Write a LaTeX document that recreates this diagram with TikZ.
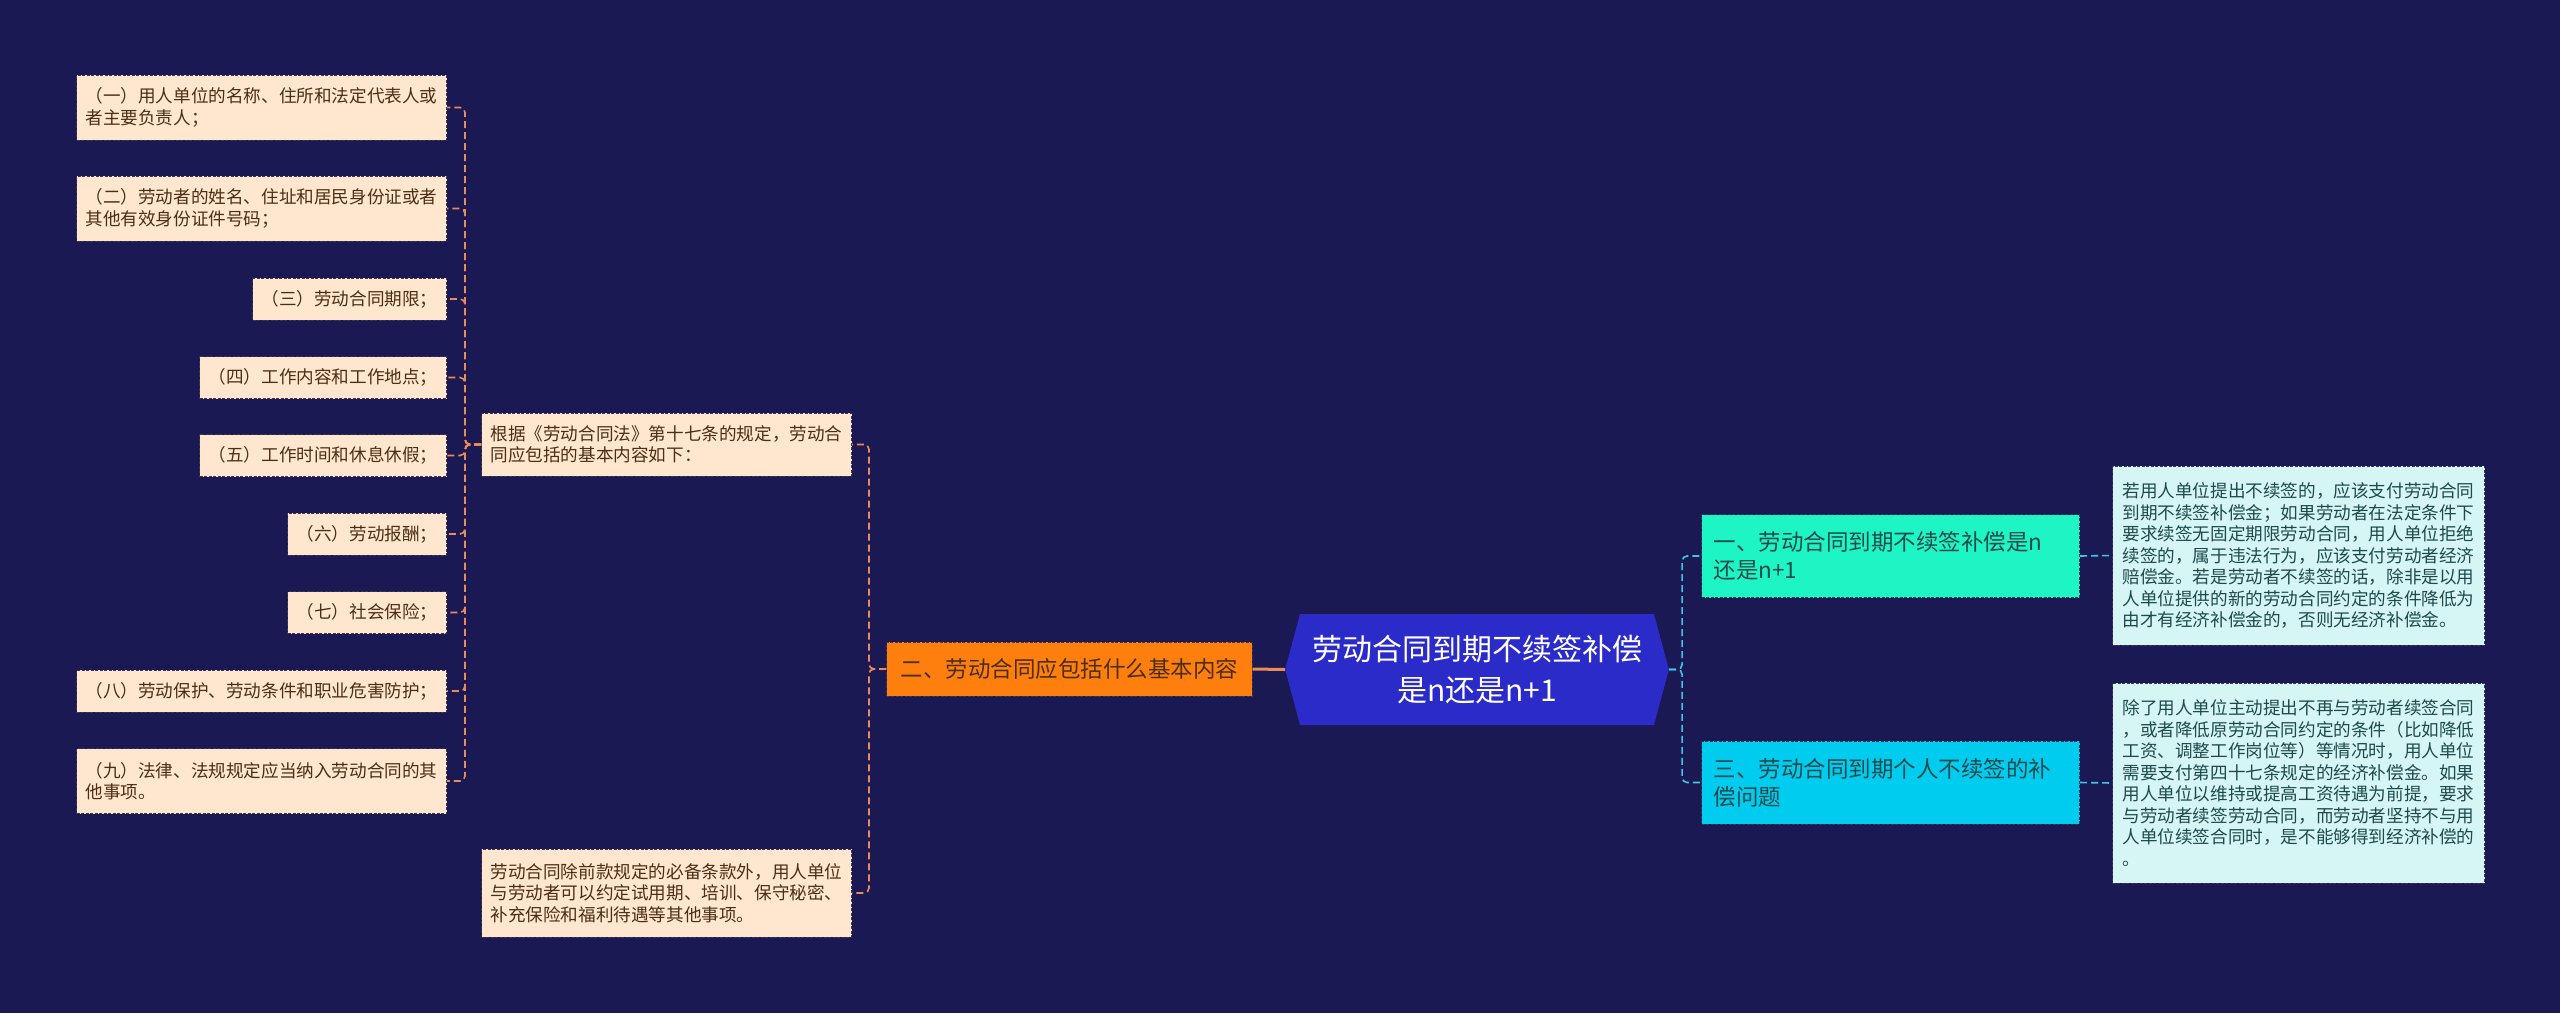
\documentclass[tikz,border=0pt]{standalone}
\usepackage{fontspec}
\setmainfont{Noto Sans CJK SC}
\usepackage{tikz}
\usetikzlibrary{shapes.symbols}
\definecolor{bgnavy}{HTML}{1B1953}
\definecolor{peach}{HTML}{FFE7CF}
\definecolor{brownink}{HTML}{4B2E14}
\definecolor{boxedge}{HTML}{3A3550}
\definecolor{lorange}{HTML}{EC8A58}
\definecolor{deeporange}{HTML}{FF7F0E}
\definecolor{rootblue}{HTML}{2A2BC8}
\definecolor{tealbox}{HTML}{1EF5C4}
\definecolor{cyanbox}{HTML}{00CCF0}
\definecolor{paleaqua}{HTML}{D5F6F5}
\definecolor{tealink}{HTML}{1E4A4C}
\definecolor{rcyan}{HTML}{3EC6E8}

\begin{document}
\begin{tikzpicture}[x=1pt,y=-1pt,
  box/.style={draw=boxedge,dash pattern=on 3pt off 1.5pt,line width=1pt,align=left,inner ysep=0pt},
  small/.style={font=\fontsize{17.6}{21.5}\selectfont,inner xsep=9pt},
  leaf/.style={box,small,fill=peach,text=brownink,anchor=east},
  midbox/.style={box,small,fill=peach,text=brownink,anchor=west},
  note/.style={box,small,fill=paleaqua,text=tealink,anchor=west,minimum width=372pt},
  topic/.style={box,font=\fontsize{22.5}{28}\selectfont,inner xsep=12pt,anchor=west,text width=354pt,minimum height=83pt},
  rootnode/.style={signal,signal to=west and east,signal pointer angle=150,fill=rootblue,text=white,
    font=\fontsize{30}{41}\selectfont,align=center,text width=330pt,inner xsep=12pt,minimum height=111pt},
  lline/.style={lorange,line width=1.6pt,dash pattern=on 7pt off 4pt,rounded corners=5pt},
  rline/.style={rcyan,line width=1.6pt,dash pattern=on 7pt off 4pt,rounded corners=5pt}]
\fill[bgnavy] (0,0) rectangle (2560,1013);
\useasboundingbox (0,0) rectangle (2560,1013);
\node[rootnode] (root) at (1477,669.5) {劳动合同到期不续签补偿\\是n还是n+1};
\node[box,fill=deeporange,text=brownink,font=\fontsize{22.5}{28}\selectfont,inner xsep=14pt,anchor=west,minimum height=54pt] (basic) at (886,669) {二、劳动合同应包括什么基本内容};
\node[midbox,minimum height=63pt] (law) at (481,444.5) {根据《劳动合同法》第十七条的规定，劳动合\\同应包括的基本内容如下：};
\node[midbox,minimum height=88pt] (extra) at (481,893) {劳动合同除前款规定的必备条款外，用人单位\\与劳动者可以约定试用期、培训、保守秘密、\\补充保险和福利待遇等其他事项。};
\node[leaf,minimum height=65pt] (i1) at (447,107.5) {（一）用人单位的名称、住所和法定代表人或\\者主要负责人；};
\node[leaf,minimum height=65pt] (i2) at (447,208.5) {（二）劳动者的姓名、住址和居民身份证或者\\其他有效身份证件号码；};
\node[leaf,minimum height=42pt] (i3) at (447,299) {（三）劳动合同期限；};
\node[leaf,minimum height=42pt] (i4) at (447,377.5) {（四）工作内容和工作地点；};
\node[leaf,minimum height=42pt] (i5) at (447,455.5) {（五）工作时间和休息休假；};
\node[leaf,minimum height=42pt] (i6) at (447,534) {（六）劳动报酬；};
\node[leaf,minimum height=42pt] (i7) at (447,612.5) {（七）社会保险；};
\node[leaf,minimum height=42pt] (i8) at (447,691) {（八）劳动保护、劳动条件和职业危害防护；};
\node[leaf,minimum height=65pt] (i9) at (447,781) {（九）法律、法规规定应当纳入劳动合同的其\\他事项。};
\node[topic,fill=tealbox,text=tealink] (renew) at (1701,556) {一、劳动合同到期不续签补偿是n\\还是n+1};
\node[topic,fill=cyanbox,text=tealink] (person) at (1701,782.5) {三、劳动合同到期个人不续签的补\\偿问题};
\node[note,minimum height=179pt] (renewtxt) at (2112,555.5) {若用人单位提出不续签的，应该支付劳动合同\\到期不续签补偿金；如果劳动者在法定条件下\\要求续签无固定期限劳动合同，用人单位拒绝\\续签的，属于违法行为，应该支付劳动者经济\\赔偿金。若是劳动者不续签的话，除非是以用\\人单位提供的新的劳动合同约定的条件降低为\\由才有经济补偿金的，否则无经济补偿金。};
\node[note,minimum height=200pt] (persontxt) at (2112,783) {除了用人单位主动提出不再与劳动者续签合同\\，或者降低原劳动合同约定的条件（比如降低\\工资、调整工作岗位等）等情况时，用人单位\\需要支付第四十七条规定的经济补偿金。如果\\用人单位以维持或提高工资待遇为前提，要求\\与劳动者续签劳动合同，而劳动者坚持不与用\\人单位续签合同时，是不能够得到经济补偿的\\。};
\draw[lorange,line width=3pt] (root.west) -- (basic.east);
\foreach \n in {law,extra}
  \draw[lline] (basic.west) -- ++(-17,0) |- (\n.east);
\foreach \n in {i1,i2,i3,i4,i5,i6,i7,i8,i9}
  \draw[lline] (law.west) -- ++(-16,0) |- (\n.east);
\foreach \n in {renew,person}
  \draw[rline] (root.east) -- ++(13,0) |- (\n.west);
\draw[rline] (renew.east) -- (renewtxt.west);
\draw[rline] (person.east) -- (persontxt.west);
\end{tikzpicture}
\end{document}
